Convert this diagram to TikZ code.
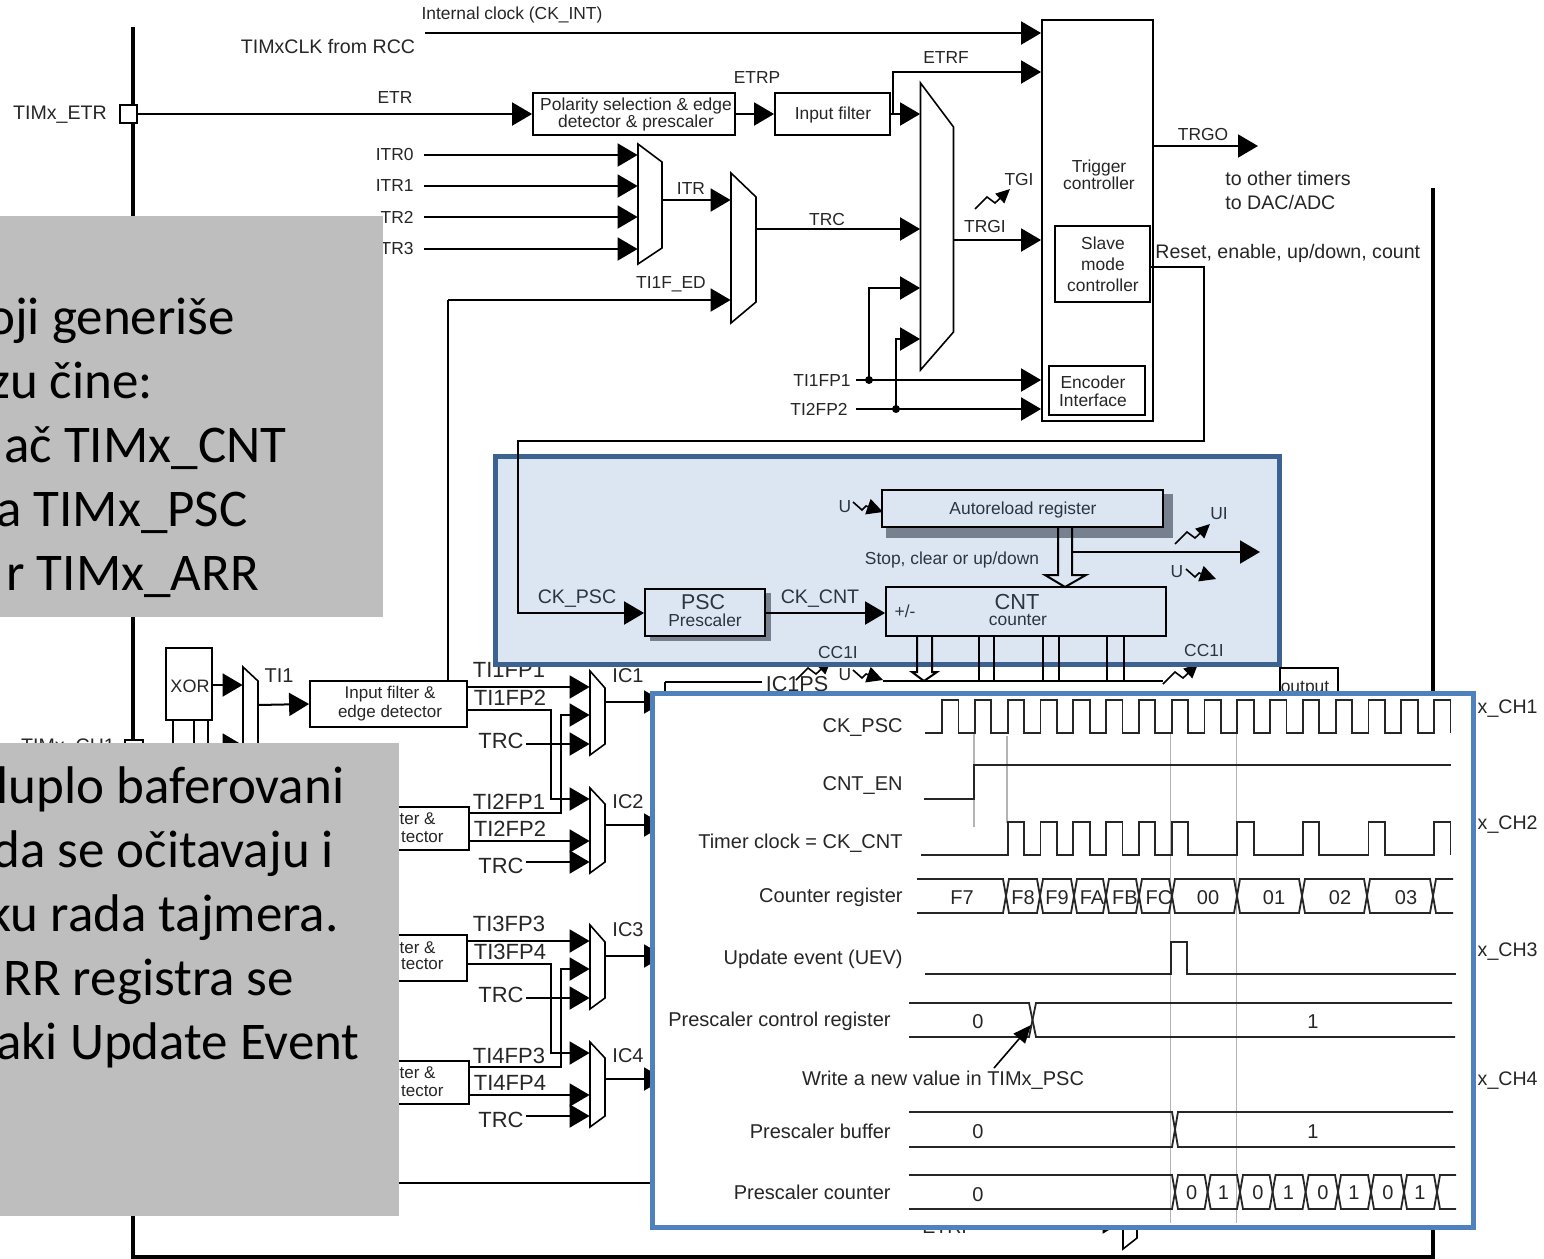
\documentclass[tikz,border=0pt]{standalone}
\usepackage{fontspec}
\setmainfont{Liberation Sans}
\newfontfamily\panelfont{Carlito}
\usetikzlibrary{arrows.meta,fit}

\definecolor{inkdark}{HTML}{262626}
\definecolor{inkblue}{HTML}{2B3442}
\definecolor{panelblue}{HTML}{DCE6F2}
\definecolor{edgedark}{HTML}{3B6290}
\definecolor{edgelight}{HTML}{4F81BD}
\definecolor{shadowgray}{HTML}{76808E}
\definecolor{notegray}{HTML}{BEBEBE}
\definecolor{gridgray}{HTML}{B4B4B4}

\newcommand{\fsa}{\fontsize{8.7}{8.5}\selectfont}
\newcommand{\fsb}{\fontsize{9.8}{10}\selectfont}
\newcommand{\fsc}{\fontsize{11}{12}\selectfont}
\newcommand{\fst}{\fontsize{10}{12}\selectfont}
\newcommand{\fsl}{\fontsize{8.7}{10.5}\selectfont}
\newcommand{\fsn}{\panelfont\fontsize{26.5}{32}\selectfont}

\tikzset{
  wire/.style={line width=1pt, -{Triangle[length=10pt,width=11.5pt]}},
  wirel/.style={wire, shorten <=5pt},
  plainw/.style={line width=1pt},
  thickbar/.style={line width=2.3pt},
  blockbox/.style={draw, line width=0.9pt, inner sep=0pt},
  lbla/.style={inner sep=0pt, yshift=-0.5pt, font=\fsa, text=inkdark, align=center},
  lblb/.style={inner sep=0pt, yshift=-0.5pt, font=\fsb, text=inkdark},
  lblc/.style={inner sep=0pt, yshift=-0.5pt, font=\fsc, text=inkdark},
  lblt/.style={inner sep=0pt, yshift=-0.75pt, font=\fst, text=inkdark},
  notebox/.style={fill=notegray, inner sep=0pt},
  notetext/.style={inner sep=0pt, anchor=base west, font=\fsn, text=black},
  waveline/.style={line width=0.9pt, black!85},
  gridline/.style={line width=0.6pt, gridgray},
  bolt/.pic={\draw[line width=0.8pt, -{Triangle[length=7pt,width=6.5pt]}] (0,0) -- (12,-12) -- (20,-6) -- (35,-20);},
  uhook/.pic={\draw[line width=0.8pt, -{Triangle[length=8pt,width=8pt]}] (0,-4) -- (9,4) -- (13,0) -- (30,6);},
}

% mux: name, x left, x right, then y of the four corners
\newcommand{\muxblock}[7]{%
  \node[fit={(#2,#4) (#3,#7)}, inner sep=0pt] (#1) {};
  \draw[line width=0.8pt, fill=white] (#2,#4) -- (#3,#5) -- (#3,#6) -- (#2,#7) -- cycle;
}
% bus segment of a timing row: top, bottom, x start, x end
\newcommand{\hexseg}[4]{%
  \draw[waveline] (#3,{(#1+#2)/2}) -- ({#3+3},#1) -- ({#4-3},#1) -- (#4,{(#1+#2)/2})
    -- ({#4-3},#2) -- ({#3+3},#2) -- cycle;
}

\begin{document}
\begin{tikzpicture}[x=0.5pt, y=-0.5pt]
  \useasboundingbox (0,0) rectangle (1544,1259);
  \fill[white] (0,0) rectangle (1544,1259);

  % outer bars
  \draw[thickbar] (133,27) -- (133,1257) -- (1433,1257) -- (1433,188);

  % external pin and clock line
  \node[lblb] (etrname) at (60,114) {TIMx\_ETR};
  \node[draw, fill=white, line width=0.9pt, inner sep=0pt, fit={(120,105) (137,123)}] (etrpin) {};
  \node[lbla] (intclk) at (512,14) {Internal clock (CK\_INT)};
  \node[lblb] (rccclk) at (328,46) {TIMxCLK from RCC};
  \node[lbla] (etrlab) at (395,97) {ETR};

  % trigger block
  \node[blockbox, fit={(1042,20) (1153,421)}] (trig) {};
  \node[lbla] (triglab) at (1099,174) {Trigger\\controller};
  \node[blockbox, fit={(1055,226) (1150,302)}] (slave) {};
  \node[lbla, font=\fsl] (slavelab) at (1103,263) {Slave\\mode\\controller};
  \node[blockbox, fit={(1049,366) (1145,415)}] (encoder) {};
  \node[lbla, font=\fontsize{8.7}{9}\selectfont] (enclab) at (1093,390) {Encoder\\Interface};

  % ETR path
  \node[blockbox, fit={(533,93) (735,135)}] (polar) {};
  \node[lbla] (polarlab) at (636,113) {Polarity selection \& edge\\detector \& prescaler};
  \node[blockbox, fit={(775,93) (890,135)}] (inflt) {};
  \node[lbla] (infltlab) at (833,114) {Input filter};
  \node[lbla] (etrplab) at (757,77) {ETRP};
  \node[lbla] (etrflab) at (946,57) {ETRF};
  \coordinate (ckint) at (425,33);
  \coordinate (etrfup) at (893,72);
  \coordinate (etrftap) at (893,114);
  \muxblock{bigmux}{920.5}{953.5}{83}{127}{332}{370}
  \draw[wire] (ckint) -- (trig.west |- ckint);
  \draw[wire] (etrpin.east) -- (polar.west);
  \draw[wire] (polar.east) -- (inflt.west);
  \draw[wire] (inflt.east) -- (bigmux.west |- inflt.east);
  \draw[wire] (etrftap) -- (etrfup) -- (trig.west |- etrfup);

  % ITR mux
  \foreach \n/\y/\txt in {0/154/ITR0,1/185/ITR1,2/216/TR2,3/248/TR3} {
    \node[lbla, anchor=east] (itr\n) at (414,\y) {\txt};
  }
  \muxblock{muxitr}{638}{662}{144}{162}{248}{264}
  \muxblock{muxtrc}{731}{756}{173}{197}{302}{323}
  \foreach \n in {0,1,2,3} {
    \draw[wirel] (itr\n.east) -- (muxitr.west |- itr\n.east);
  }
  \node[lbla] (itrlab) at (691,188) {ITR};
  \node[lbla] (edlab) at (671,283) {TI1F\_ED};
  \node[lbla] (trclab) at (827,219) {TRC};
  \coordinate (itrout) at (662,200);
  \coordinate (trcout) at (756,229);
  \draw[wire] (itrout) -- (muxtrc.west |- itrout);
  \draw[wire] (trcout) -- (bigmux.west |- trcout);

  % trigger mux outputs
  \node[lbla] (trgilab) at (985,226) {TRGI};
  \node[lbla] (tgilab) at (1019,179) {TGI};
  \coordinate (trgi) at (954,240);
  \draw[wire] (trgi) -- (trig.west |- trgi);
  \pic (tgibolt) at (975,209) {bolt};
  \node[lbla] (tfp1) at (822,380) {TI1FP1};
  \node[lbla] (tfp2) at (819,408) {TI2FP2};
  \coordinate (jfp1) at (869,380);
  \coordinate (jfp2) at (896,409);
  \coordinate (upfp1) at (869,288);
  \coordinate (upfp2) at (896,339);
  \draw[wire, shorten <=2.5pt] (tfp1.east |- jfp1) -- (trig.west |- jfp1);
  \draw[wire, shorten <=4pt] (tfp2.east |- jfp2) -- (trig.west |- jfp2);
  \draw[wire] (jfp1) -- (upfp1) -- (bigmux.west |- upfp1);
  \draw[wire] (jfp2) -- (upfp2) -- (bigmux.west |- upfp2);
  \fill (jfp1) circle (2pt);
  \fill (jfp2) circle (2pt);

  % trigger output
  \node[lbla] (trgolab) at (1203,134) {TRGO};
  \coordinate (trgo) at (1153,146);
  \coordinate (trgoend) at (1258,146);
  \draw[wire] (trgo) -- (trgoend);
  \node[lblb, anchor=west] (othertim) at (1225,177) {to other timers};
  \node[lblb, anchor=west] (dacadc) at (1225,201) {to DAC/ADC};
  \node[lblb, anchor=west] (reslab) at (1155,252) {Reset, enable, up/down, count};

  % input stage
  \node[blockbox, fit={(166,648) (212,720)}] (xorbox) {};
  \node[lbla, font=\fontsize{9}{10}\selectfont] (xorlab) at (190,685) {XOR};
  \muxblock{muxti}{243}{258}{667}{681}{790}{800}
  \coordinate (xorup) at (212,685);
  \coordinate (xorlow) at (212,745);
  \coordinate (ti1out) at (258,705);
  \node[lblb, font=\fontsize{10}{10}\selectfont] (ti1lab) at (279,675) {TI1};
  \draw[wire] (xorup) -- (muxti.west |- xorup);
  \draw[wire] (xorlow) -- (muxti.west |- xorlow);
  \foreach \n/\xp in {1/173,2/194,3/208} {
    \coordinate (xp\n) at (\xp,760);
    \draw[plainw] (xorbox.south -| xp\n) -- (xp\n);
  }
  \node[lblb] (ch1name) at (68,747) {TIMx\_CH1};
  \node[draw, fill=white, line width=0.9pt, inner sep=0pt, fit={(125,740) (143,760)}] (ch1pin) {};

  % capture channels
  \foreach \a/\b/\pa/\pb/\dy in {1/2/1/2/0,3/4/3/4/254} {
    \node[blockbox, fit={(310,681+\dy) (467,727+\dy)}] (flt\a) {};
    \node[blockbox, fit={(310,807+\dy) (469,850+\dy)}] (flt\b) {};
    \muxblock{mux\a}{590}{605}{671+\dy}{688+\dy}{744+\dy}{755+\dy}
    \muxblock{mux\b}{590}{605}{788+\dy}{804+\dy}{862+\dy}{873+\dy}
    \node[lblc] (fpa\a) at (509,669+\dy) {TI\a{}FP\pa};
    \node[lblc] (fpb\a) at (510,697+\dy) {TI\a{}FP\pb};
    \node[lblc] (fpa\b) at (509,801+\dy) {TI\b{}FP\pa};
    \node[lblc] (fpb\b) at (510,828+\dy) {TI\b{}FP\pb};
    \node[lblc] (trcl\a) at (501,740+\dy) {TRC};
    \node[lblc] (trcl\b) at (501,865+\dy) {TRC};
    \node[lblb, font=\fontsize{10}{10}\selectfont] (iclab\a) at (628,675+\dy) {IC\a};
    \node[lblb, font=\fontsize{10}{10}\selectfont] (iclab\b) at (628,801+\dy) {IC\b};
    \coordinate (pa\a) at (467,687+\dy);
    \coordinate (pb\a) at (467,710+\dy);
    \coordinate (pa\b) at (469,813+\dy);
    \coordinate (pb\b) at (469,841+\dy);
    \coordinate (cross\a) at (551,799+\dy);
    \coordinate (cross\b) at (561,715+\dy);
    \coordinate (ta\a) at (526,744+\dy);
    \coordinate (ta\b) at (526,862+\dy);
    \coordinate (out\a) at (605,702+\dy);
    \coordinate (out\b) at (605,825+\dy);
    \coordinate (end\a) at (664,702+\dy);
    \coordinate (end\b) at (664,825+\dy);
    \draw[wire] (pa\a) -- (mux\a.west |- pa\a);
    \draw[wire] (pb\a) -| (cross\a) -- (mux\b.west |- cross\a);
    \draw[wire] (pa\b) -| (cross\b) -- (mux\a.west |- cross\b);
    \draw[wire] (pb\b) -- (mux\b.west |- pb\b);
    \draw[wire] (ta\a) -- (mux\a.west |- ta\a);
    \draw[wire] (ta\b) -- (mux\b.west |- ta\b);
    \draw[wire] (out\a) -- (end\a);
    \draw[wire] (out\b) -- (end\b);
  }
  \node[lbla, font=\fontsize{8.5}{9.5}\selectfont] (flt1lab) at (390,703) {Input filter \&\\edge detector};
  \foreach \n/\ya/\yb in {2/818/836,3/947/963,4/1072/1090} {
    \node[lbla, font=\fontsize{8.5}{9.5}\selectfont, anchor=east] (flta\n) at (436,\ya) {ter \&};
    \node[lbla, font=\fontsize{8.5}{9.5}\selectfont, anchor=east] (fltb\n) at (444,\yb) {tector};
  }
  \draw[wire] (ti1out) -- (flt1.west);
  \coordinate (edturn) at (448,300);
  \draw[plainw] (flt1.north -| edturn) -- (edturn);
  \draw[wire] (edturn) -- (muxtrc.west |- edturn);

  % capture compare parts that stay visible below the counter panel
  \node[lblc, font=\fontsize{10.8}{11}\selectfont] (ic1ps) at (797,683) {IC1PS};
  \coordinate (psleft) at (665,682);
  \coordinate (psright) at (762,682);
  \draw[plainw] (psleft) -- (psright);
  \draw[plainw] (psleft) -- ++(0,20);
  \node[lbla] (uccr) at (845,674) {U};
  \pic (uccrhook) at (853,674) {uhook};
  \coordinate (ccrl) at (883,681);
  \coordinate (ccrr) at (1163,681);
  \draw[plainw] (ccrl) -- (ccrr);
  \pic (ccrboltl) at (796,680) {bolt};
  \pic (ccrboltr) at (1163,684) {bolt};
  \node[blockbox, fit={(1280,668) (1338,720)}] (outbox) {};
  \node[lbla] (outlab) at (1305,688) {output};
  \foreach \n/\y in {1/708,2/824,3/951,4/1080} {
    \node[lblb, anchor=east] (chlab\n) at (1538,\y) {TIMx\_CH\n};
  }
  % lower trigger pieces under the timing panel
  \coordinate (tixl) at (399,1183);
  \coordinate (tixr) at (660,1183);
  \draw[plainw] (tixl) -- (tixr);
  \node[lblb] (etrfbot) at (948,1226) {ETRF};
  \muxblock{muxetrf}{1123}{1137}{1215}{1225}{1238}{1249}
  \coordinate (etrfbota) at (1090,1222);
  \draw[wire] (etrfbota) -- (muxetrf.west |- etrfbota);

  % counter panel
  \node[draw=edgedark, fill=panelblue, line width=2.5pt, inner sep=0pt, fit={(495.5,456.5) (1279.5,664)}] (cntpanel) {};
  \fill[shadowgray] (886,494) rectangle (1173,538);
  \fill[shadowgray] (650,593) rectangle (771,641);
  \node[blockbox, fill=panelblue, fit={(882,490) (1163,527)}] (arr) {};
  \node[blockbox, fill=panelblue, fit={(645,589) (765,636)}] (psc) {};
  \node[blockbox, fill=panelblue, fit={(886,587) (1166,636)}] (cnt) {};
  \node[lbla, text=inkblue] (arrlab) at (1023,509) {Autoreload register};
  \node[lblc, text=inkblue, font=\fontsize{10.7}{11}\selectfont] (psclab) at (703,601) {PSC};
  \node[lbla, text=inkblue] (presclab) at (705,619) {Prescaler};
  \node[lblc, text=inkblue, font=\fontsize{10.9}{11}\selectfont] (cntlab) at (1017,601) {CNT};
  \node[lbla, text=inkblue] (counterlab) at (1018,619) {counter};
  \node[lblb, text=inkblue] (ckpsclab) at (577,598) {CK\_PSC};
  \node[lblb, text=inkblue] (ckcntlab) at (820,598) {CK\_CNT};
  \node[lbla, text=inkblue] (pmlab) at (905,610) {+/-};
  \node[lbla, text=inkblue] (stoplab) at (952,559) {Stop, clear or up/down};
  \node[lbla, text=inkblue] (uilab) at (1219,513) {UI};
  \node[lbla, text=inkblue] (uarr) at (845,506) {U};
  \node[lbla, text=inkblue] (uout) at (1177,571) {U};
  \node[lbla, text=inkblue] (cc1il) at (838,652) {CC1I};
  \node[lbla, text=inkblue] (cc1ir) at (1204,650) {CC1I};
  \pic (uarrhook) at (853,506) {uhook};
  \pic (uouthook) at (1186,573) {uhook};
  \pic (uibolt) at (1175,544) {bolt};
  % bus into the counter and update output
  \coordinate (busa) at (1058,575);
  \coordinate (busb) at (1072,575);
  \coordinate (uiout) at (1072,552);
  \coordinate (uiend) at (1260,552);
  \draw[plainw] (arr.south -| busa) -- (busa) -- (1045,575) -- (1065,587) -- (1086,575) -- (busb) -- (arr.south -| busb);
  \draw[wire] (uiout) -- (uiend);
  % reset line from the slave controller down to the prescaler
  \coordinate (rst) at (1150,267);
  \coordinate (rstdown) at (1204,441);
  \coordinate (ckpscin) at (518,613);
  \draw[wire] (rst) -| (rstdown) -- (ckpscin |- rstdown) -- (ckpscin) -- (psc.west |- ckpscin);
  \draw[wire] (psc.east |- ckpscin) -- (cnt.west |- ckpscin);
  % bus pairs under the counter
  \foreach \xa/\xb in {979/994,1043/1059,1107/1124} {
    \coordinate (dna) at (\xa,681);
    \coordinate (dnb) at (\xb,681);
    \draw[plainw] (cnt.south -| dna) -- (dna);
    \draw[plainw] (cnt.south -| dnb) -- (dnb);
  }
  \coordinate (bdl) at (917,672);
  \coordinate (bdr) at (932,672);
  \draw[plainw] (cnt.south -| bdl) -- (bdl) -- (912,672) -- (924,681) -- (937,672) -- (bdr) -- (cnt.south -| bdr);

  % grey note boxes
  \node[notebox, fit={(0,216) (383,617)}] (noteone) {};
  \node[notetext] (n1a) at (-13,334) {oji generiše};
  \node[notetext] (n1b) at (-11,398) {zu čine:};
  \node[notetext] (n1c) at (4,462) {ač TIMx\_CNT};
  \node[notetext] (n1d) at (-4,526) {a TIMx\_PSC};
  \node[notetext] (n1e) at (6,590) {r TIMx\_ARR};
  \node[notebox, fit={(0,743) (399,1216)}] (notetwo) {};
  \node[notetext] (n2a) at (-4,803) {luplo baferovani};
  \node[notetext] (n2b) at (-8,867) {da se očitavaju i};
  \node[notetext] (n2c) at (-13,931) {ku rada tajmera.};
  \node[notetext] (n2d) at (3,995) {RR registra se};
  \node[notetext] (n2e) at (-4,1059) {aki Update Event};

  % timing panel
  \node[draw=edgelight, fill=white, line width=2.5pt, inner sep=0pt, fit={(652,693) (1473,1227)}] (timing) {};
  \foreach \xg/\ya/\yb in {974/733/827,1007/736/823,1170.5/733/1223,1236.5/733/1223} {
    \draw[gridline] (\xg,\ya) -- (\xg,\yb);
  }
  % row names
  \foreach \n/\txt/\xr/\y in {1/CK\_PSC/903/726,2/CNT\_EN/903/784,3/Timer clock = CK\_CNT/903/842,4/Counter register/903/896,
      5/Update event (UEV)/903/958,6/Prescaler control register/891/1020,7/Prescaler buffer/891/1130,8/Prescaler counter/891/1191} {
    \node[lblt, anchor=east] (row\n) at (\xr,\y) {\txt};
  }
  % clocks
  \draw[waveline] (925,733) \foreach \k [evaluate=\k as \rx using 942+32.8*\k] in {0,...,15} {
      -- (\rx,733) -- (\rx,700) -- ({\rx+16.5},700) -- ({\rx+16.5},733) };
  \draw[waveline] (924,799) -- (974,799) -- (974,765) -- (1451,765);
  \draw[waveline] (921,855) \foreach \k [evaluate=\k as \rx using 942+32.8*\k] in {2,3,4,5,6,7,9,11,13,15} {
      -- (\rx,855) -- (\rx,822) -- ({\rx+16.5},822) -- ({\rx+16.5},855) };
  % counter register
  \draw[waveline] (917,879) -- (1003,879) -- (1006,896) -- (1003,913) -- (917,913);
  \foreach \xa/\xb/\val/\xt in {1006/1040/F8/1023,1040/1074/F9/1057,1074/1106/FA/1092,1106/1139/FB/1125,1139/1172/FC/1159,
      1172/1237/00/1208,1237/1302/01/1274,1302/1367/02/1340,1367/1433/03/1406} {
    \hexseg{879}{913}{\xa}{\xb}
    \node[lblt] (cnt\val) at (\xt,896) {\val};
  }
  \node[lblt] (cntF7) at (962,896) {F7};
  \draw[waveline] (1453,879) -- (1436,879) -- (1433,896) -- (1436,913) -- (1453,913);
  % update event
  \draw[waveline] (925,974) -- (1171,974) -- (1171,942) -- (1187,942) -- (1187,974) -- (1456,974);
  % prescaler control register
  \draw[waveline] (909,1003) -- (1029,1003) -- (1036,1037) -- (1455,1037);
  \draw[waveline] (909,1037) -- (1029,1037) -- (1036,1003) -- (1452,1003);
  \node[lblt] (pcr0) at (978,1020) {0};
  \node[lblt] (pcr1) at (1313,1020) {1};
  \node[lblt] (writelab) at (943,1079) {Write a new value in TIMx\_PSC};
  \coordinate (writefrom) at (994,1068);
  \coordinate (writeto) at (1031,1025);
  \draw[line width=0.8pt, -{Triangle[length=9pt,width=7.5pt]}] (writefrom) -- (writeto);
  % prescaler buffer
  \draw[waveline] (909,1112) -- (1172,1112) -- (1178,1147) -- (1455,1147);
  \draw[waveline] (909,1147) -- (1172,1147) -- (1178,1112) -- (1453,1112);
  \node[lblt] (pbuf0) at (978,1130) {0};
  \node[lblt] (pbuf1) at (1313,1130) {1};
  % prescaler counter
  \draw[waveline] (909,1175) -- (1172,1175) -- (1175,1192) -- (1172,1209) -- (909,1209);
  \node[lblt] (pcnt) at (978,1193) {0};
  \foreach \n/\xa/\xb/\xt in {0/1175/1207.6/1191.6,1/1207.6/1240/1223.5,0/1240/1272.6/1258,1/1272.6/1305.6/1288.5,
      0/1305.6/1338/1323,1/1338/1371/1354,0/1371/1404/1388,1/1404/1437/1420} {
    \hexseg{1175}{1209}{\xa}{\xb}
    \node[lblt] (pc\xa) at (\xt,1191) {\n};
  }
  \draw[waveline] (1456,1175) -- (1440,1175) -- (1437,1192) -- (1440,1209) -- (1456,1209);
\end{tikzpicture}
\end{document}
